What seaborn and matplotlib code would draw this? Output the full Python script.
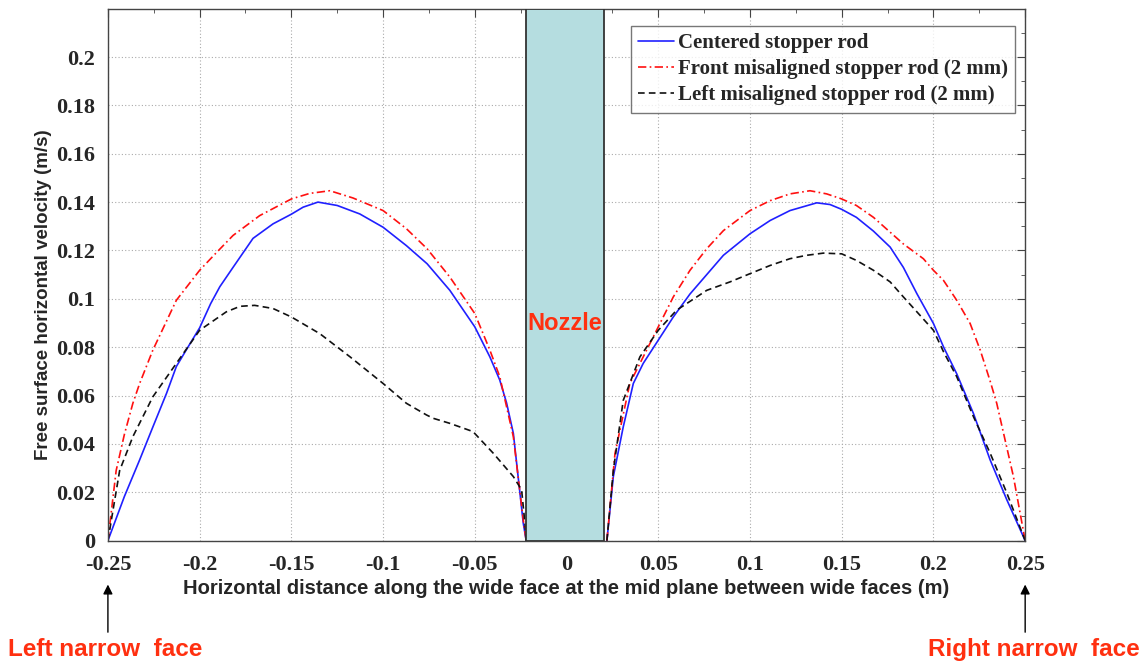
import numpy as np
import pandas as pd
import seaborn as sns
import matplotlib.pyplot as plt
from matplotlib.patches import Rectangle
from matplotlib.ticker import MultipleLocator

sns.set_style("white")

# centered stopper rod
x_centered = [-0.25, -0.241, -0.2327, -0.2255, -0.218, -0.2127, -0.2064, -0.2, -0.194, -0.189,
              -0.1818, -0.1709, -0.16, -0.15, -0.1436, -0.1355, -0.125, -0.1127, -0.1, -0.0873,
              -0.076, -0.0636, -0.05, -0.0418, -0.0364, -0.0327, -0.029, -0.0236, -0.022,
              0.022, 0.0255, 0.0309, 0.0364, 0.0418, 0.05, 0.0582, 0.0673, 0.0764, 0.0855, 0.1,
              0.111, 0.1218, 0.1364, 0.1436, 0.15, 0.158, 0.1673, 0.1764, 0.1836, 0.191, 0.2,
              0.2055, 0.2127, 0.2218, 0.2309, 0.24, 0.25]
v_centered = [0.0, 0.0183, 0.0334, 0.047, 0.061, 0.072, 0.080, 0.088, 0.098, 0.105,
              0.113, 0.125, 0.131, 0.135, 0.1379, 0.14, 0.1386, 0.1351, 0.1296, 0.122,
              0.1145, 0.1035, 0.0884, 0.076, 0.0664, 0.057, 0.0444, 0.0073, 0.0,
              0.0, 0.0265, 0.047, 0.065, 0.0733, 0.0829, 0.0925, 0.102, 0.110, 0.118, 0.1269,
              0.1324, 0.1365, 0.1397, 0.139, 0.137, 0.1337, 0.128, 0.1214, 0.113, 0.1021, 0.0898,
              0.0801, 0.069, 0.0526, 0.0334, 0.0169, 0.0]

# front misaligned stopper rod (2 mm)
x_front = [-0.25, -0.2455, -0.241, -0.2364, -0.2327, -0.2255, -0.2127, -0.2, -0.191, -0.1818,
           -0.1673, -0.15, -0.14, -0.129, -0.1164, -0.1, -0.0873, -0.076, -0.0636, -0.05,
           -0.0418, -0.0364, -0.029, -0.0236, -0.022,
           0.022, 0.0264, 0.0345, 0.0418, 0.05, 0.0582, 0.0673, 0.0764, 0.0855, 0.1, 0.111,
           0.1218, 0.1327, 0.1418, 0.15, 0.158, 0.1673, 0.1836, 0.1945, 0.2, 0.2055, 0.2127,
           0.22, 0.2255, 0.2309, 0.2345, 0.2436, 0.25]
v_front = [0.0, 0.029, 0.044, 0.0568, 0.065, 0.0788, 0.0994, 0.1118, 0.119, 0.1262,
           0.1344, 0.1413, 0.1436, 0.1447, 0.1417, 0.1365, 0.129, 0.1207, 0.109, 0.0939,
           0.0788, 0.0678, 0.043, 0.0087, 0.0,
           0.0, 0.036, 0.065, 0.076, 0.0884, 0.1008, 0.1118, 0.1207, 0.1282, 0.1365, 0.1406,
           0.1434, 0.1447, 0.1434, 0.1413, 0.1386, 0.1337, 0.1227, 0.1166, 0.1118, 0.1076, 0.0994,
           0.0898, 0.0788, 0.066, 0.0568, 0.0265, 0.0]

# left misaligned stopper rod (2 mm)
x_left = [-0.25, -0.2436, -0.2364, -0.2255, -0.2127, -0.2, -0.1855, -0.178, -0.17, -0.16, -0.15,
          -0.1345, -0.118, -0.1, -0.0873, -0.0764, -0.0727, -0.0636, -0.051, -0.04, -0.029,
          -0.0245, -0.0227, -0.022,
          0.022, 0.0255, 0.0309, 0.04, 0.05, 0.06, 0.0764, 0.0891, 0.1, 0.111, 0.1218, 0.1309,
          0.14, 0.15, 0.158, 0.1673, 0.1764, 0.1836, 0.191, 0.2, 0.2055, 0.2127, 0.2218, 0.2309,
          0.24, 0.25]
v_left = [0.0, 0.029, 0.043, 0.0595, 0.0733, 0.087, 0.0946, 0.0969, 0.0973, 0.096, 0.0925,
          0.0856, 0.076, 0.065, 0.0568, 0.052, 0.0506, 0.0485, 0.0451, 0.0362, 0.0265,
          0.021, 0.0073, 0.0,
          0.0, 0.029, 0.058, 0.076, 0.087, 0.0953, 0.1035, 0.107, 0.1104, 0.1138, 0.1166, 0.118,
          0.1189, 0.1186, 0.1159, 0.1118, 0.107, 0.1008, 0.0946, 0.087, 0.0781, 0.0678, 0.0513,
          0.0362, 0.0197, 0.0]

nozzle_left, nozzle_right = -0.022, 0.0205
xticks = [-0.25, -0.2, -0.15, -0.1, -0.05, 0, 0.05, 0.1, 0.15, 0.2, 0.25]
xtick_labels = ["-0.25", "-0.2", "-0.15", "-0.1", "-0.05", "0", "0.05", "0.1", "0.15", "0.2", "0.25"]
yticks = [0, 0.02, 0.04, 0.06, 0.08, 0.1, 0.12, 0.14, 0.16, 0.18, 0.2]
ytick_labels = ["0", "0.02", "0.04", "0.06", "0.08", "0.1", "0.12", "0.14", "0.16", "0.18", "0.2"]


def split_side(xs, vs):
    # break the curve at the nozzle so it is not drawn through it
    df = pd.DataFrame({"x": xs, "v": vs})
    return df[df.x < 0], df[df.x > 0]


fig = plt.figure(figsize=(11.48, 6.65), dpi=100)
ax = fig.add_axes([0.094, 0.187, 0.799, 0.800])

series = [
    (x_centered, v_centered, "Centered stopper rod", dict(color="#2020ff", linestyle="-", linewidth=1.2)),
    (x_front, v_front, "Front misaligned stopper rod (2 mm)",
     dict(color="#ff1010", linestyle=(0, (5, 2, 1, 2)), linewidth=1.2)),
    (x_left, v_left, "Left misaligned stopper rod (2 mm)",
     dict(color="#111111", linestyle=(0, (4, 2.5)), linewidth=1.2)),
]
for xs, vs, name, style in series:
    left, right = split_side(xs, vs)
    sns.lineplot(data=left, x="x", y="v", ax=ax, label=name, sort=False, **style)
    sns.lineplot(data=right, x="x", y="v", ax=ax, sort=False, **style)

ax.add_patch(Rectangle((nozzle_left, 0), nozzle_right - nozzle_left, 0.22,
                       facecolor="#b5dde0", edgecolor="#333333", linewidth=1.3, zorder=3))
ax.text((nozzle_left + nozzle_right) / 2, 0.09, "Nozzle", color="#ff3010", ha="center", va="center",
        fontsize=17, fontweight="bold", family="Liberation Sans", zorder=4)

ax.set_xlim(-0.25, 0.25)
ax.set_ylim(0, 0.22)
ax.set_xticks(xticks)
ax.set_xticklabels(xtick_labels)
ax.set_yticks(yticks)
ax.set_yticklabels(ytick_labels)
ax.xaxis.set_minor_locator(MultipleLocator(0.025))
ax.yaxis.set_minor_locator(MultipleLocator(0.01))
ax.tick_params(which="both", direction="in", top=True, right=True, color="#444444")
ax.tick_params(which="major", length=6)
ax.tick_params(axis="x", which="major", pad=10)
ax.tick_params(axis="y", which="major", pad=9)
ax.tick_params(which="minor", length=3)
for lab in ax.get_xticklabels() + ax.get_yticklabels():
    lab.set_family("Liberation Serif")
    lab.set_fontweight("bold")
    lab.set_fontsize(16)
ax.grid(True, which="major", linestyle=(0, (1, 2)), color="#aaaaaa", linewidth=0.8)
for s in ax.spines.values():
    s.set_color("#444444")
    s.set_linewidth(1.0)

ax.set_xlabel("Horizontal distance along the wide face at the mid plane between wide faces (m)",
              fontsize=14.5, fontweight="bold", family="Liberation Sans", labelpad=3)
ax.set_ylabel("Free surface horizontal velocity (m/s)",
              fontsize=13.5, fontweight="bold", family="Liberation Sans")
ax.yaxis.set_label_coords(-0.061, 0.462)

leg = ax.legend(loc="upper right", bbox_to_anchor=(0.989, 0.968), borderaxespad=0,
                frameon=True, fancybox=False,
                prop={"family": "Liberation Serif", "weight": "bold", "size": 15},
                handlelength=1.7, handletextpad=0.2, borderpad=0.35, labelspacing=0.3)
leg.get_frame().set_edgecolor("#555555")
leg.get_frame().set_linewidth(1.0)

# narrow face annotations under the axis
for xv, txt, ha, tx in [(-0.25, "Left narrow  face", "left", 0.007), (0.25, "Right narrow  face", "right", 0.993)]:
    ax.annotate("", xy=(xv, -0.017), xytext=(xv, -0.039),
                arrowprops=dict(arrowstyle="-|>", color="black", lw=1.0, mutation_scale=14),
                annotation_clip=False)
    fig.text(tx, 0.006, txt, ha=ha, va="bottom", color="#ff3010", fontsize=17.5,
             fontweight="bold", family="Liberation Sans")

fig.savefig("out.png", dpi=100)
